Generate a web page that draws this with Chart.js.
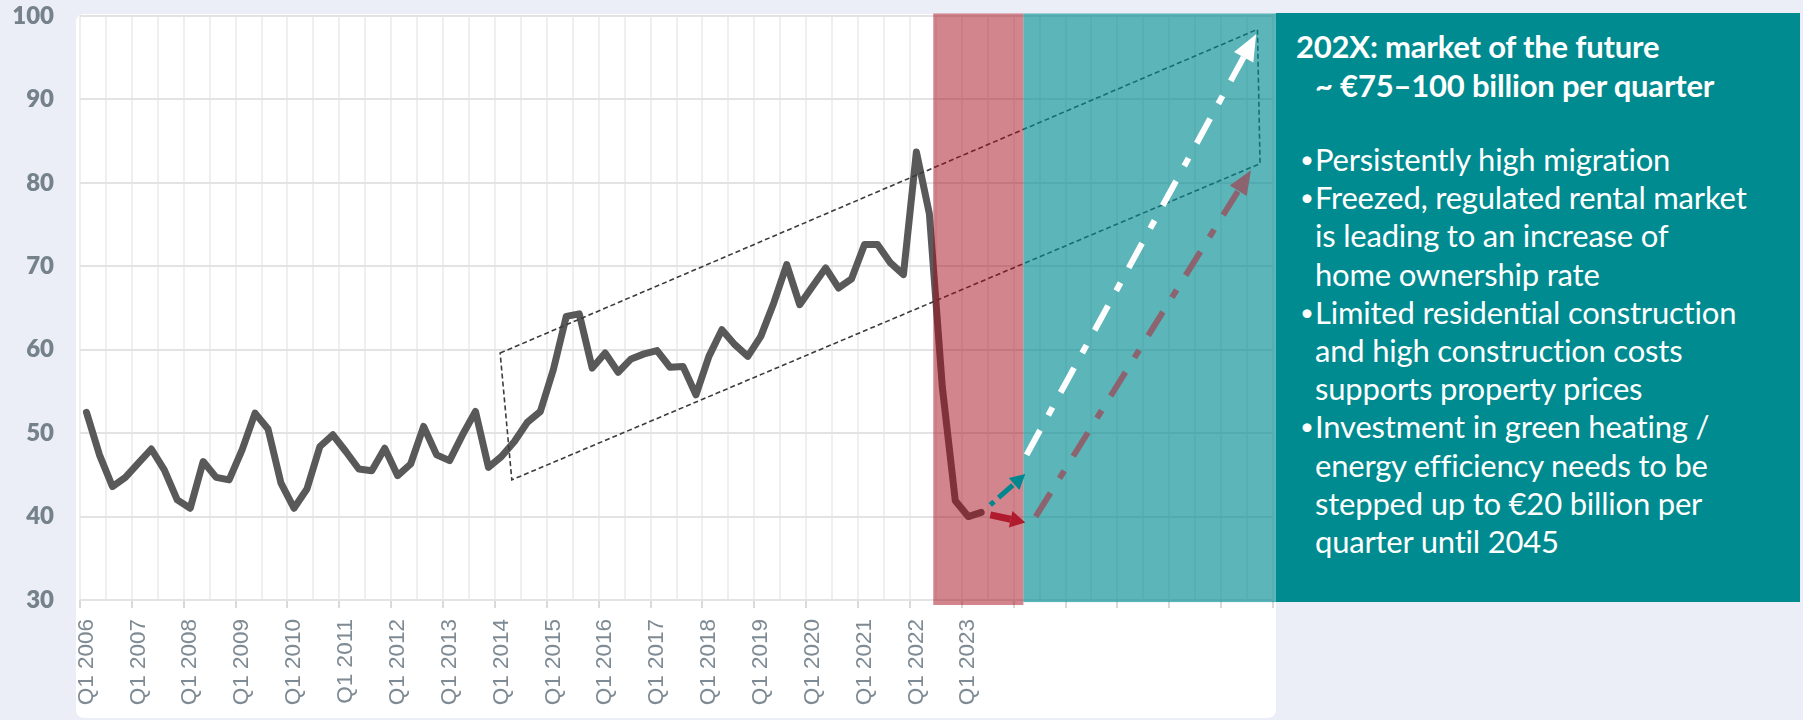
<!DOCTYPE html>
<html>
<head>
<meta charset="utf-8">
<script src="https://cdn.jsdelivr.net/npm/chart.js@4.4.1/dist/chart.umd.min.js"></script>
<style>
  html, body { margin: 0; padding: 0; background: #ebeef7; }
  #wrap { position: relative; width: 1803px; height: 720px; overflow: hidden; }
  #card { position: absolute; left: 76px; top: 14px; width: 1200px; height: 704px; background: #ffffff; border-radius: 8px; }
  #cv { position: absolute; left: 0; top: 0; }
  #box { position: absolute; left: 1276px; top: 13px; width: 524px; height: 589px; background: #008b90; color: #ffffff; font-family: Lato, "Noto Sans", sans-serif; }
  .title { position: absolute; left: 20px; top: 14px; font-weight: bold; font-size: 31px; line-height: 38.5px; white-space: nowrap; letter-spacing: -0.2px; }
  .title .l2 { padding-left: 19px; }
  ul { position: absolute; left: 25px; top: 127px; margin: 0; padding: 0; list-style: none; font-size: 31px; line-height: 38.2px; white-space: nowrap; letter-spacing: -0.2px; }
  li { position: relative; padding-left: 14px; }
  li::before { content: "\2022"; position: absolute; left: -1px; top: 0; font-size: 24px; }
</style>
</head>
<body>
<div id="wrap">
  <div id="card"></div>
  <canvas id="cv" width="1803" height="720"></canvas>
  <div id="box">
    <div class="title">202X: market of the future<br><span class="l2">~ €75–100 billion per quarter</span></div>
    <ul>
      <li>Persistently high migration</li>
      <li>Freezed, regulated rental market<br>is leading to an increase of<br>home ownership rate</li>
      <li>Limited residential construction<br>and high construction costs<br>supports property prices</li>
      <li>Investment in green heating /<br>energy efficiency needs to be<br>stepped up to €20 billion per<br>quarter until 2045</li>
    </ul>
  </div>
</div>
<script>
// ---- data ----
const tickLabels = ['Q1 2006','Q1 2007','Q1 2008','Q1 2009','Q1 2010','Q1 2011','Q1 2012','Q1 2013','Q1 2014',
  'Q1 2015','Q1 2016','Q1 2017','Q1 2018','Q1 2019','Q1 2020','Q1 2021','Q1 2022','Q1 2023'];
const firstYear = 2006, lastYear = 2028;
const volume = [52.5, 47.4, 43.6, 44.7, 46.4, 48.1, 45.6, 42.0, 41.0, 46.6, 44.7, 44.4,
  48.0, 52.4, 50.5, 44.0, 41.0, 43.3, 48.4, 49.8, 47.8, 45.7, 45.5, 48.2,
  44.9, 46.3, 50.8, 47.4, 46.7, 49.8, 52.6, 45.9, 47.2, 49.0, 51.3, 52.6,
  57.6, 64.0, 64.3, 57.8, 59.6, 57.3, 58.9, 59.5, 59.9, 57.9, 58.0, 54.6,
  59.2, 62.4, 60.6, 59.2, 61.6, 65.6, 70.2, 65.4, 67.6, 69.8, 67.4, 68.5,
  72.6, 72.6, 70.4, 69.0, 83.7, 76.3, 55.5, 41.9, 40.0, 40.5];
const yTicks = [30, 40, 50, 60, 70, 80, 90, 100];
// zones in [category index, value] units
const correctionZone = { from: 65.3, to: 72.25, low: 29.4, high: 100.3 };
const futureZone = { from: 72.25, to: 91.75, low: 29.75, high: 100.3 };
const trendChannel = [[31.9, 59.6], [90.3, 98.4], [90.5, 82.3], [32.8, 44.4]];
const upsideArrow = [[72.5, 47.4], [90.2, 97.8]];
const baseArrow = [[73.2, 40.0], [89.8, 81.5]];
const recoveryArrow = [[69.7, 41.4], [72.4, 45.1]];
const declineArrow = [[69.7, 40.2], [72.4, 39.3]];

// categories
const categories = [];
for (let y = firstYear; y <= lastYear; y++) for (let q = 1; q <= 4; q++) categories.push('Q' + q + ' ' + y);

function arrow(ctx, p0, p1, color, width, dash, headLen, headW) {
  const [x0, y0] = p0, [x1, y1] = p1;
  const ang = Math.atan2(y1 - y0, x1 - x0);
  const bx = x1 - headLen * Math.cos(ang), by = y1 - headLen * Math.sin(ang);
  ctx.save();
  ctx.setLineDash(dash); ctx.lineWidth = width; ctx.strokeStyle = color; ctx.lineCap = 'butt';
  ctx.beginPath(); ctx.moveTo(x0, y0); ctx.lineTo(bx, by); ctx.stroke();
  ctx.setLineDash([]); ctx.fillStyle = color;
  ctx.beginPath(); ctx.moveTo(x1, y1);
  ctx.lineTo(bx + headW / 2 * Math.sin(ang), by - headW / 2 * Math.cos(ang));
  ctx.lineTo(bx - headW / 2 * Math.sin(ang), by + headW / 2 * Math.cos(ang));
  ctx.closePath(); ctx.fill();
  ctx.restore();
}

const overlay = {
  id: 'overlay',
  afterDatasetsDraw(chart) {
    const { ctx, scales: { x, y } } = chart;
    const P = ([a, b]) => [x.getPixelForValue(a), y.getPixelForValue(b)];
    ctx.save();
    // trend channel
    ctx.setLineDash([5, 3]); ctx.lineWidth = 1.6; ctx.strokeStyle = '#3c3c3c';
    ctx.beginPath();
    trendChannel.forEach((pt, i) => { const [px, py] = P(pt); i ? ctx.lineTo(px, py) : ctx.moveTo(px, py); });
    ctx.closePath(); ctx.stroke();
    ctx.setLineDash([]);
    // zones
    const zone = (z, c) => {
      const [x0, y0] = P([z.from, z.high]); const [x1, y1] = P([z.to, z.low]);
      ctx.fillStyle = c; ctx.fillRect(x0, y0, x1 - x0, y1 - y0);
    };
    zone(correctionZone, 'rgba(168,12,30,0.5)');
    zone(futureZone, 'rgba(0,139,144,0.64)');
    ctx.restore();
    // arrows
    arrow(ctx, P(baseArrow[0]), P(baseArrow[1]), '#8c6470', 6, [28, 17, 9, 17], 24, 20);
    arrow(ctx, P(upsideArrow[0]), P(upsideArrow[1]), '#ffffff', 6, [28, 17, 9, 17], 26, 22);
    arrow(ctx, P(recoveryArrow[0]), P(recoveryArrow[1]), '#00878f', 5, [5, 6, 14, 0], 15, 16);
    arrow(ctx, P(declineArrow[0]), P(declineArrow[1]), '#b01c2e', 7, [], 15, 17);
  }
};

new Chart(document.getElementById('cv'), {
  type: 'line',
  data: {
    labels: categories,
    datasets: [{
      data: volume,
      borderColor: '#595959',
      borderWidth: 7,
      borderJoinStyle: 'round',
      borderCapStyle: 'round',
      pointRadius: 0,
      tension: 0,
      fill: false
    }]
  },
  options: {
    responsive: false,
    animation: false,
    events: [],
    layout: { autoPadding: false, padding: { left: 0, top: 16, right: 530, bottom: 0 } },
    plugins: { legend: { display: false }, tooltip: { enabled: false } },
    scales: {
      x: {
        type: 'category',
        offset: true,
        afterFit: s => { s.height = 120; s.paddingLeft = 0; s.paddingRight = 0; },
        border: { display: false },
        grid: {
          offset: true,
          lineWidth: 2,
          tickLength: 8,
          color: c => (c.type !== 'tick' || c.index % 2 === 0) ? '#efefef' : 'rgba(0,0,0,0)',
          tickColor: c => (c.type !== 'tick' || c.index % 4 === 0) ? '#d9d9d9' : 'rgba(0,0,0,0)'
        },
        ticks: {
          autoSkip: false, minRotation: 90, maxRotation: 90, padding: 11,
          color: '#7f8b94',
          font: { family: 'Liberation Sans', size: 22.5 },
          callback: (v, i) => (i % 4 === 0 && tickLabels[i / 4]) ? tickLabels[i / 4] : ''
        }
      },
      y: {
        min: yTicks[0], max: yTicks[yTicks.length - 1],
        afterFit: s => { s.width = 80; s.paddingTop = 0; s.paddingBottom = 0; },
        afterBuildTicks: s => { s.ticks = yTicks.map(v => ({ value: v })); },
        border: { display: false },
        grid: { color: '#e3e3e3', lineWidth: 2, drawTicks: false },
        ticks: { padding: 26, color: '#76828b', font: { family: 'Lato', weight: '800', size: 24 } }
      }
    }
  },
  plugins: [overlay]
});
</script>
</body>
</html>
